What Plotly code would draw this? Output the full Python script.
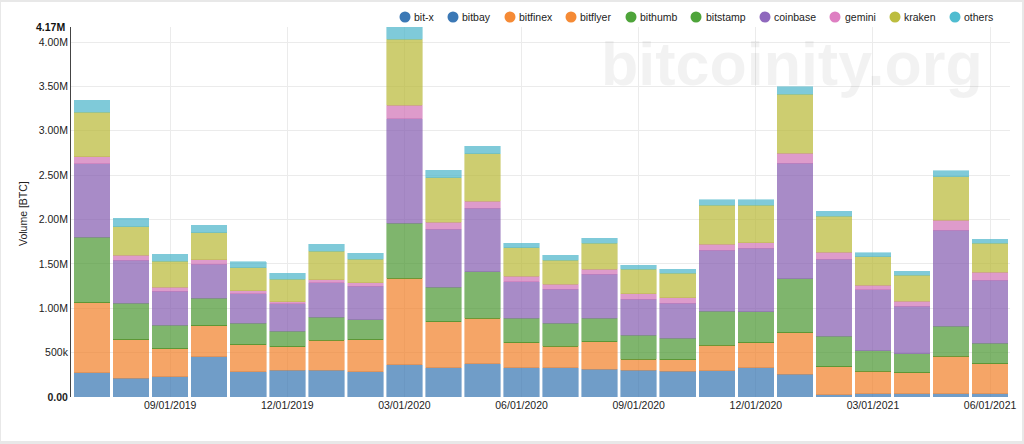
import plotly.graph_objects as go

# monthly exchange volume, values in millions of BTC
months = ["07/01/2019", "08/01/2019", "09/01/2019", "10/01/2019", "11/01/2019", "12/01/2019",
          "01/01/2020", "02/01/2020", "03/01/2020", "04/01/2020", "05/01/2020", "06/01/2020",
          "07/01/2020", "08/01/2020", "09/01/2020", "10/01/2020", "11/01/2020", "12/01/2020",
          "01/01/2021", "02/01/2021", "03/01/2021", "04/01/2021", "05/01/2021", "06/01/2021"]

bit_x = [0] * 24
bitbay = [.274, .214, .229, .451, .285, .300, .304, .285, .361, .327, .376, .331,
          .327, .315, .304, .293, .297, .327, .255, .023, .034, .034, .038, .038]
bitfinex = [.789, .432, .316, .353, .305, .267, .338, .361, .976, .522, .510, .281,
            .244, .308, .124, .128, .289, .285, .470, .319, .255, .240, .420, .338]
bitflyer = [0] * 24
bithumb = [0] * 24
bitstamp = [.740, .413, .263, .308, .240, .173, .256, .225, .620, .390, .526, .274,
            .259, .267, .267, .244, .383, .350, .605, .345, .233, .214, .338, .232]
coinbase = [.826, .485, .382, .387, .334, .312, .387, .380, 1.179, .654, .718, .414,
            .383, .496, .409, .394, .684, .713, 1.303, .864, .687, .534, 1.082, .710]
gemini = [.079, .056, .049, .048, .034, .022, .037, .034, .150, .075, .078, .060,
          .060, .056, .057, .060, .071, .064, .116, .079, .053, .060, .116, .090]
kraken = [.500, .319, .290, .305, .259, .252, .323, .270, .748, .503, .534, .323,
          .271, .293, .277, .274, .436, .424, .661, .409, .319, .289, .489, .327]
others = [.135, .098, .082, .086, .068, .067, .079, .064, .135, .087, .082, .048,
          .052, .057, .049, .045, .063, .060, .087, .057, .042, .045, .067, .042]

x_ticks = ["09/01/2019", "12/01/2019", "03/01/2020", "06/01/2020",
           "09/01/2020", "12/01/2020", "03/01/2021", "06/01/2021"]
y_ticks = [0, .5, 1, 1.5, 2, 2.5, 3, 3.5, 4]
y_labels = ["<b>0.00</b>", "500k", "1.00M", "1.50M", "2.00M", "2.50M", "3.00M", "3.50M", "4.00M"]
y_top = 4.17

series = [("bit-x", bit_x, "#3574b2"), ("bitbay", bitbay, "#3574b2"),
          ("bitfinex", bitfinex, "#f28028"), ("bitflyer", bitflyer, "#f28028"),
          ("bithumb", bithumb, "#4a9730"), ("bitstamp", bitstamp, "#4a9730"),
          ("coinbase", coinbase, "#845bb0"), ("gemini", gemini, "#d172b6"),
          ("kraken", kraken, "#b8b834"), ("others", others, "#4ab5c9")]

# hand placed legend, pixel x of each circle and label
legend_circle_x = [405, 453, 510, 571, 631, 696, 765, 835, 895, 955]
legend_text_x = [412, 460, 517, 578, 638, 704, 772, 843, 902, 962]
legend_dots = ["#3b78b5", "#3b78b5", "#f58a35", "#f58a35", "#4ea43a", "#4ea43a",
               "#8f68bd", "#de7fc2", "#bcbd3f", "#4fbcd0"]

W, H = 1024, 444
LEFT, RIGHT, TOP, BOTTOM = 71, 14, 27, 47
FONT = "Liberation Sans"

def px(x):
    return (x - LEFT) / (W - LEFT - RIGHT)

def py(y):
    return (H - BOTTOM - y) / (H - TOP - BOTTOM)

fig = go.Figure()
for name, values, color in series:
    fig.add_trace(go.Bar(x=months, y=values, name=name, showlegend=False,
                         marker=dict(color=color, opacity=0.7, line=dict(color=color, width=0.6))))

shapes = [dict(type="rect", xref="paper", yref="paper", layer="below",
               x0=px(1), x1=px(1022), y0=py(441), y1=py(2),
               fillcolor="white", line=dict(width=0))]
annotations = [
    dict(text="<b>bitcoinity.org</b>", xref="paper", yref="paper", x=px(792), y=py(64),
         xanchor="center", yanchor="middle",
         showarrow=False, font=dict(family=FONT, size=61, color="rgba(0,0,0,0.05)")),
    dict(text="<b>4.17M</b>", xref="paper", yref="y", x=px(67), y=y_top,
         xanchor="right", yanchor="middle",
         showarrow=False, font=dict(family=FONT, size=10.5, color="#111")),
    dict(text="Volume [BTC]", xref="paper", yref="paper", x=px(23), y=py(214), textangle=-90,
         xanchor="center", yanchor="middle",
         showarrow=False, font=dict(family=FONT, size=10.5, color="#222")),
]
for i, (name, values, color) in enumerate(series):
    shapes.append(dict(type="circle", xref="paper", yref="paper",
                       x0=px(legend_circle_x[i] - 5.5), x1=px(legend_circle_x[i] + 5.5),
                       y0=py(22.5), y1=py(11.5), fillcolor=legend_dots[i], line=dict(width=0)))
    annotations.append(dict(text=name, xref="paper", yref="paper", x=px(legend_text_x[i]), y=py(17),
                            xanchor="left", yanchor="middle", showarrow=False,
                            font=dict(family=FONT, size=10.5, color="#222")))

fig.update_layout(
    width=W, height=H, barmode="stack", bargap=0.09,
    paper_bgcolor="#e8e8e8", plot_bgcolor="rgba(0,0,0,0)",
    margin=dict(l=LEFT, r=RIGHT, t=TOP, b=BOTTOM),
    font=dict(family=FONT, size=10.5, color="#222"),
    shapes=shapes, annotations=annotations, showlegend=False,
    xaxis=dict(type="category", categoryorder="array", categoryarray=months, automargin=False,
               range=[-0.54, 23.51], tickmode="array", tickvals=x_ticks, ticktext=x_ticks,
               tickangle=0, showgrid=True, gridcolor="#ebebeb", gridwidth=1.3,
               showline=False, zeroline=False, ticks="", ticklen=0),
    yaxis=dict(range=[0, y_top], tickmode="array", tickvals=y_ticks, ticktext=y_labels, automargin=False,
               showgrid=True, gridcolor="#ebebeb", gridwidth=1.3, zeroline=False,
               showline=True, linecolor="#444", linewidth=1, ticks="", ticklen=0),
)

fig.write_html("out.html", config=dict(displayModeBar=False),
               post_script="document.body.style.margin='0';document.body.style.overflow='hidden';")
